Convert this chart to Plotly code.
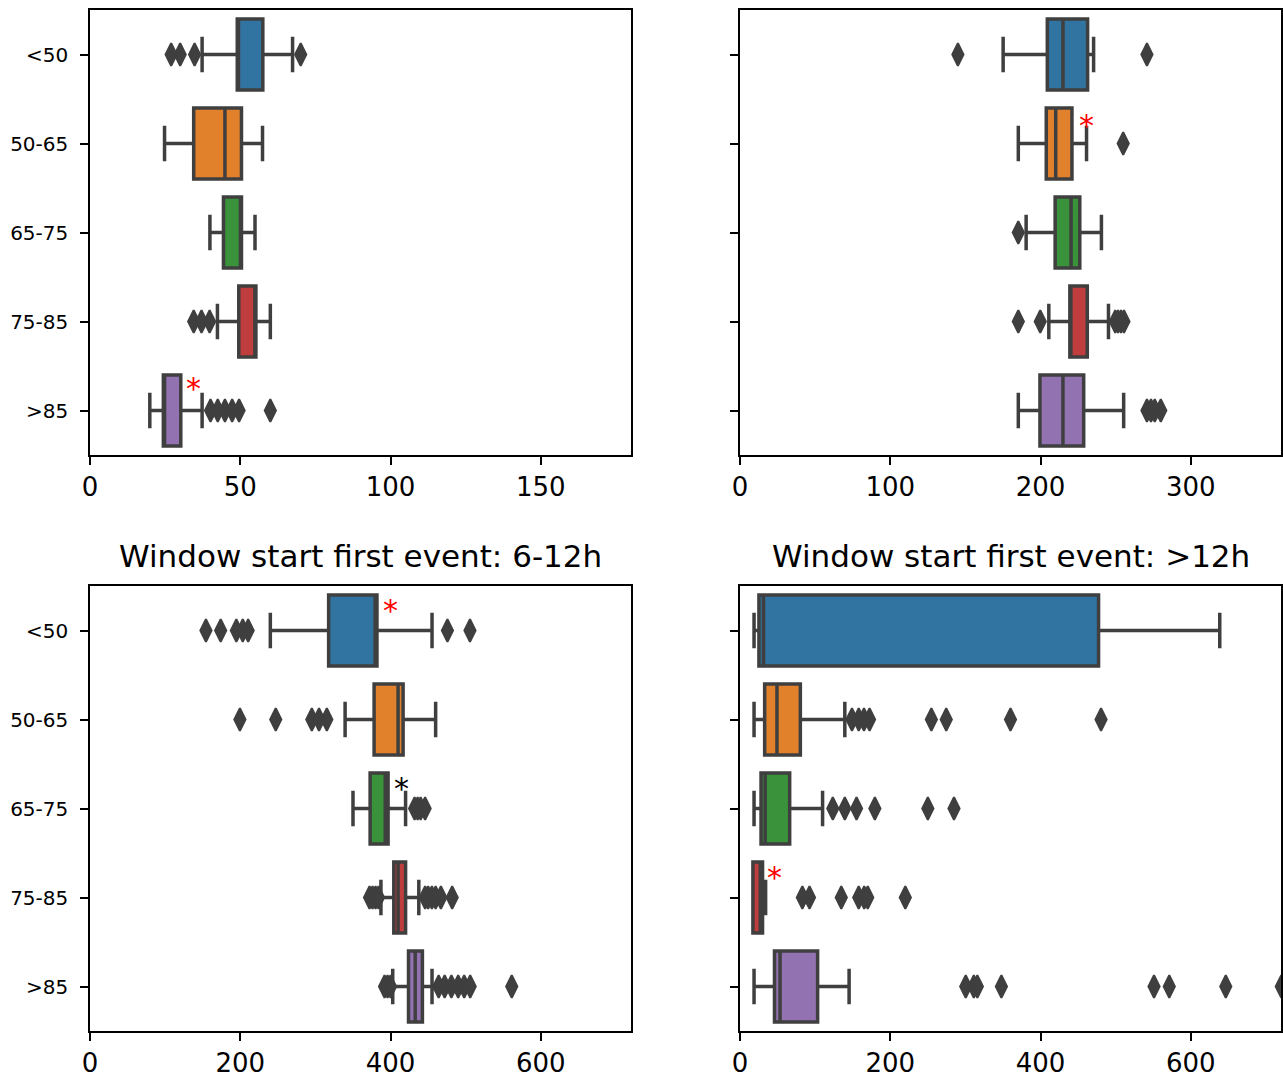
import plotly.graph_objects as go
from plotly.subplots import make_subplots

GROUPS = ["<50", "50-65", "65-75", "75-85", ">85"]
COLORS = ["#3274a1", "#e1812c", "#3a923a", "#c03d3e", "#9372b2"]
EDGE = "#3f3f3f"

# panel A (top left)
a_q1 = [49.0, 34.5, 44.4, 49.5, 24.4]
a_med = [49.4, 44.9, 50.3, 55.0, 24.8]
a_q3 = [57.5, 50.4, 50.4, 55.2, 30.2]
a_lo = [37.3, 24.8, 39.9, 42.4, 19.9]
a_hi = [67.4, 57.4, 54.9, 60.0, 37.3]
a_out = [[27, 30, 34.8, 70.1], [], [], [34.5, 37.1, 39.8], [40.1, 42.5, 44.9, 47.3, 49.6, 60]]

# panel B (top right)
b_q1 = [204.5, 203.8, 209.7, 219.5, 199.6]
b_med = [214.9, 210.1, 220.3, 219.8, 214.9]
b_q3 = [231.3, 220.9, 226.1, 231.1, 228.7]
b_lo = [175.1, 185.2, 190.4, 205.5, 185.2]
b_hi = [235.3, 230.6, 240.5, 245.2, 255.3]
b_out = [[145, 270.8], [255], [185.2], [185.2, 199.8, 249.7, 251.5, 253.5, 255.5], [270.8, 273.5, 276, 280]]

# panel C (bottom left)
c_q1 = [317.6, 378.1, 372.8, 404.3, 423.9]
c_med = [379.5, 410.0, 393.0, 410.0, 432.8]
c_q3 = [381.9, 416.7, 396.7, 420.0, 442.4]
c_lo = [240.0, 339.5, 350.0, 387.2, 402.9]
c_hi = [455.2, 460.0, 420.0, 437.6, 455.2]
c_out = [[154.3, 173.9, 194.8, 203.3, 210.5, 475.7, 505.7],
         [199.5, 247.2, 295.2, 304.8, 315.2],
         [432, 436, 440, 446],
         [372, 376, 380, 384, 446, 450, 455, 460, 467, 482],
         [392, 396, 400, 464, 472, 481, 490, 498, 506, 561.3]]

# panel D (bottom right)
d_q1 = [25.2, 32.8, 28.0, 17.2, 45.9]
d_med = [31.3, 49.2, 33.5, 27.0, 53.3]
d_q3 = [477.2, 80.3, 66.1, 30.0, 103.3]
d_lo = [18.7, 18.7, 18.7, 17.2, 18.7]
d_hi = [638.5, 139.5, 109.9, 34.1, 145.2]
d_out = [[], [149, 158, 165, 172.4, 254.7, 274.5, 360, 480.5],
         [123.5, 139.5, 155.1, 179.5, 250, 284.8],
         [83, 92.5, 134.8, 158, 165.3, 170, 220],
         [300.4, 311.2, 315.9, 347.9, 551, 571.3, 646.5, 720.4]]

panels = [
    (1, 1, a_q1, a_med, a_q3, a_lo, a_hi, a_out),
    (1, 2, b_q1, b_med, b_q3, b_lo, b_hi, b_out),
    (2, 1, c_q1, c_med, c_q3, c_lo, c_hi, c_out),
    (2, 2, d_q1, d_med, d_q3, d_lo, d_hi, d_out),
]
X_RANGES = {(1, 1): [0, 180], (1, 2): [0, 360], (2, 1): [0, 720], (2, 2): [0, 720]}
X_DTICK = {(1, 1): 50, (1, 2): 100, (2, 1): 200, (2, 2): 200}

# significance marks: (row, col, x value, y position, colour)
STARS = [
    (1, 1, 34.5, 3.75, "red"),
    (1, 2, 230.5, 0.80, "red"),
    (2, 1, 400, -0.22, "red"),
    (2, 1, 414.5, 1.77, "black"),
    (2, 2, 46, 2.78, "red"),
]

FONT = "DejaVu Sans"

fig = make_subplots(rows=2, cols=2)

for row, col, q1, med, q3, lo, hi, outs in panels:
    for i, g in enumerate(GROUPS):
        fig.add_trace(go.Box(
            y=[g], q1=[q1[i]], median=[med[i]], q3=[q3[i]],
            lowerfence=[lo[i]], upperfence=[hi[i]],
            orientation="h", width=0.8, whiskerwidth=0.5,
            fillcolor=COLORS[i], line=dict(color=EDGE, width=3.5),
            boxpoints=False, showlegend=False, hoverinfo="skip",
        ), row=row, col=col)
        if outs[i]:
            fig.add_trace(go.Scatter(
                x=outs[i], y=[g] * len(outs[i]), mode="markers",
                marker=dict(symbol="diamond-tall", size=16, color=EDGE,
                            line=dict(color=EDGE, width=2)),
                showlegend=False, hoverinfo="skip",
            ), row=row, col=col)

    fig.update_xaxes(range=X_RANGES[(row, col)], dtick=X_DTICK[(row, col)],
                     row=row, col=col)
    fig.update_yaxes(categoryorder="array", categoryarray=GROUPS,
                     range=[4.5, -0.5], showticklabels=(col == 1),
                     row=row, col=col)

for row, col, xv, yv, c in STARS:
    idx = (row - 1) * 2 + col
    sfx = "" if idx == 1 else str(idx)
    fig.add_annotation(x=xv, y=yv, xref="x" + sfx, yref="y" + sfx, text="*",
                       showarrow=False, font=dict(family=FONT, size=30, color=c),
                       yanchor="middle")

fig.update_xaxes(showgrid=False, zeroline=False, showline=True, mirror=True,
                 linecolor="black", linewidth=1.5, ticks="outside", ticklen=8,
                 tickwidth=1.5, tickcolor="black", automargin=False,
                 tickfont=dict(family=FONT, size=26, color="black"))
fig.update_yaxes(showgrid=False, zeroline=False, showline=True, mirror=True,
                 linecolor="black", linewidth=1.5, ticks="outside", ticklen=8,
                 tickwidth=1.5, tickcolor="black", ticklabelstandoff=8,
                 automargin=False,
                 tickfont=dict(family=FONT, size=20, color="black"))

W, H = 1283, 1077


def px_x(a, b):
    return [a / W, b / W]


def px_y(top, bottom):
    return [1 - bottom / H, 1 - top / H]


xl = px_x(90, 631)
xr = px_x(740, 1281)
yt = px_y(10, 455)
yb = px_y(586, 1031)
fig.update_layout(
    xaxis=dict(domain=xl), xaxis2=dict(domain=xr),
    xaxis3=dict(domain=xl), xaxis4=dict(domain=xr),
    yaxis=dict(domain=yt), yaxis2=dict(domain=yt),
    yaxis3=dict(domain=yb), yaxis4=dict(domain=yb),
)

for title, xd in [("Window start first event: 6-12h", xl),
                  ("Window start first event: >12h", xr)]:
    fig.add_annotation(text=title, x=(xd[0] + xd[1]) / 2, y=1 - 556 / H,
                       xref="paper", yref="paper", showarrow=False,
                       font=dict(family=FONT, size=31, color="black"),
                       xanchor="center", yanchor="middle")

fig.update_layout(
    width=W, height=H, margin=dict(l=0, r=0, t=0, b=0),
    plot_bgcolor="white", paper_bgcolor="white",
    font=dict(family=FONT, color="black"),
)

# drop the default page margin so the figure sits flush in the window
fig.write_html(
    "out.html",
    config={"displayModeBar": False},
    post_script="document.body.style.margin='0';"
                "document.documentElement.style.overflow='hidden';",
)
